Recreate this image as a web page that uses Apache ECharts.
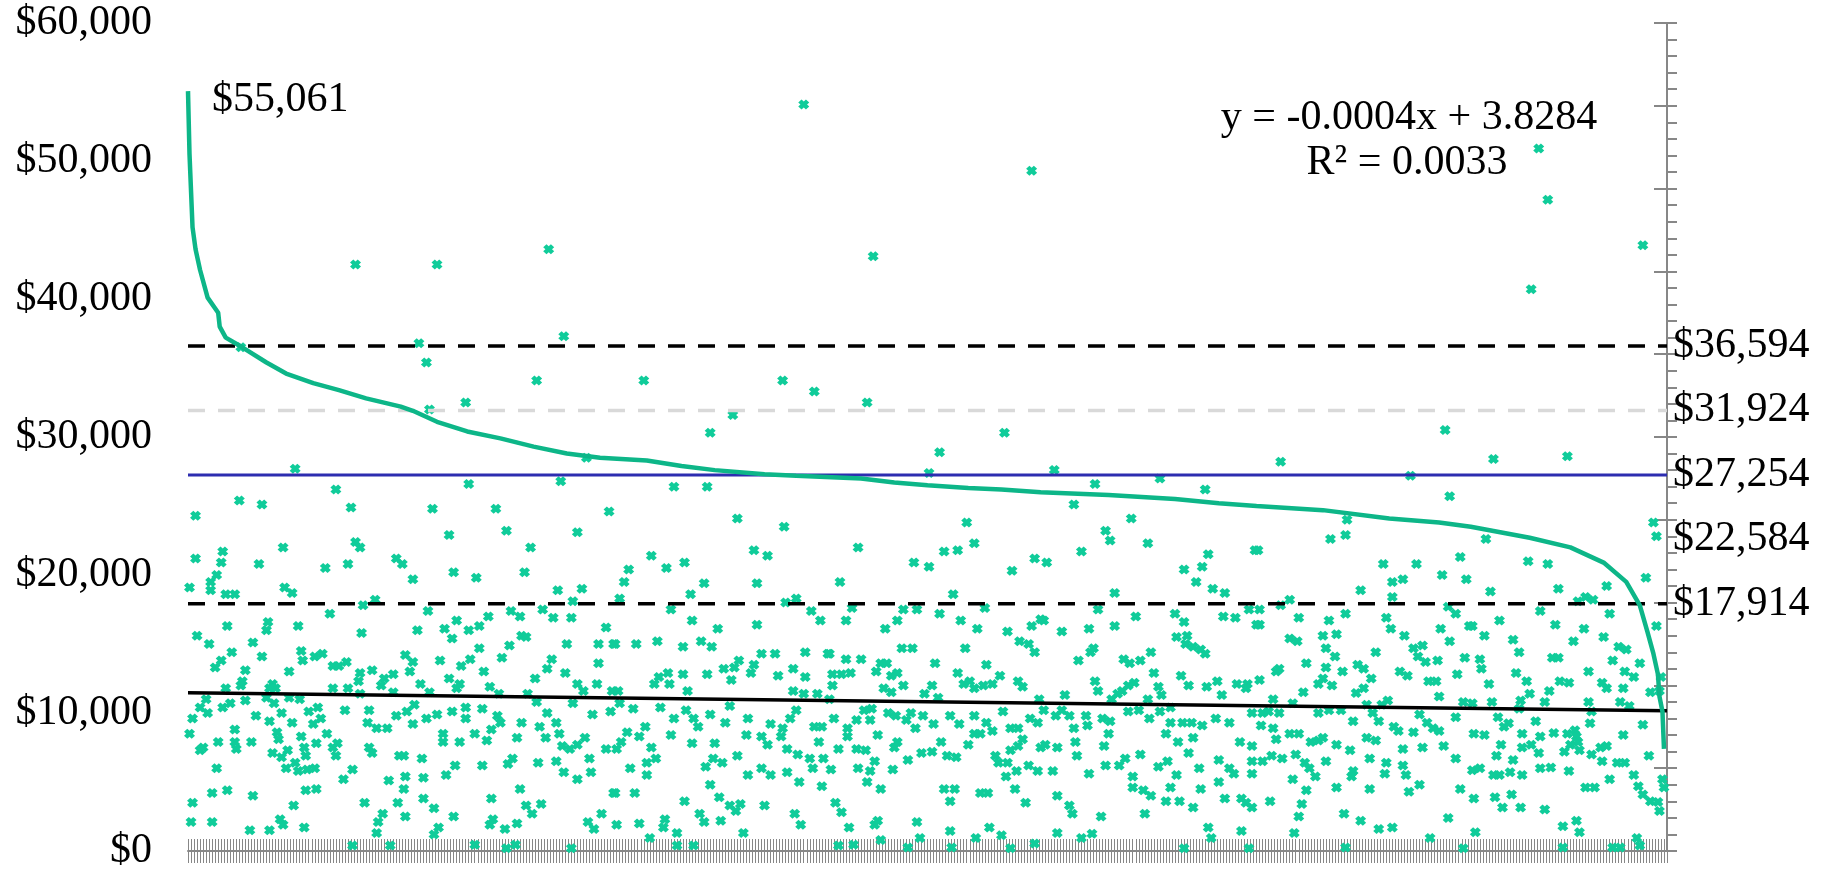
<!DOCTYPE html>
<html>
<head>
<meta charset="utf-8">
<script src="https://cdn.jsdelivr.net/npm/echarts@6/dist/echarts.min.js"></script>
<style>
  html, body { margin: 0; padding: 0; background: #fff; }
  #chart { width: 1835px; height: 871px; }
</style>
</head>
<body>
<div id="chart"></div>
<script>
// rank (0..980) and salary values
const curveRank = [0,1,3,5,8,13,20,21,25,36,52,65,83,100,118,141,149,165,185,207,229,251,273,304,327,349,382,403,446,468,490,517,539,565,610,654,683,708,752,796,829,850,889,916,938,953,962,967,971,974,975,977,978];
const curveValue = [55061,50500,45200,43600,42100,40100,39000,38000,37200,36500,35400,34600,33900,33400,32800,32200,31900,31100,30400,29900,29300,28800,28500,28300,27900,27600,27300,27200,27000,26700,26500,26300,26200,26000,25800,25500,25200,25000,24700,24100,23800,23500,22700,22000,20900,19500,17800,15900,14300,12800,11200,10100,7400];

const trendRank = [0, 980];
const trendValue = [11470, 10160];

const refValues = [36594, 31924, 27254, 22584, 17914];
const refLabels = ['$36,594', '$31,924', '$27,254', '$22,584', '$17,914'];

const peakLabel = '$55,061';
const equationLines = ['y = -0.0004x + 3.8284', 'R\u00b2 = 0.0033'];

// scatter points, strip by strip from left to right: [rank, value]
const stripA = [[111,42500],[35,36500],[71,27700],[5,24300],[34,25400],[49,25100],[98,26200],[108,24900],
[5,21200],[23,21700],[22,20900],[19,20000],[15,19500],[15,18900],[1,19100],[25,18600],[31,18600],[47,20800],[63,22000],[64,19100],[69,18700],[91,20500],[106,20800],[111,22400],[114,22000],[94,17200],[124,18200],[116,17800],[138,21200],
[6,15600],[14,15000],[26,16300],[53,16600],[52,16000],[73,16300],[43,15100],[115,15800],[29,14400],[22,13800],[18,13300],[38,13100],[49,14100],[75,14500],[76,13800],[84,14100],[89,14300],[96,13400],[100,13400],[105,13700],[67,13000],[114,12900],[122,13100],[130,12500],[136,12800],[36,12300],[35,12000],[25,11800],[56,12100],[54,11800],[58,11800],[96,11800],[106,11800],[113,12300],[114,11400],[128,12000],[136,11500],
[12,11000],[8,10400],[3,9600],[13,10000],[23,10400],[28,10700],[38,10900],[45,9800],[52,11100],[57,10700],[62,10000],[67,11100],[74,11000],[54,9400],[69,9300],[80,10100],[86,10400],[88,9600],[83,9200],[104,10200],[120,10200],[119,9300],[125,8900],[132,8900],[138,9800],
[1,8500],[10,7500],[8,7300],[20,7900],[31,8800],[31,7900],[32,7400],[42,7900],[59,8600],[60,8100],[66,7300],[56,7100],[62,6800],[65,6000],[71,6400],[75,8300],[77,7500],[78,6900],[73,5800],[79,5900],[84,6000],[85,7800],[92,8500],[96,7500],[98,6900],[99,7800],[120,7500],[122,7100],[103,5200],[109,5900],[133,5100],[140,6900],[19,6000],
[16,4200],[26,4400],[43,4000],[78,4400],[85,4500],[3,3500],[70,3300],[117,3500],[139,3500],[2,2100],[16,2100],[41,1500],[54,1500],[61,2300],[63,1900],[77,1700],[129,2700],[126,2100],[125,1300],[109,400],[134,400]];

const stripB = [[165,42500],[239,43600],[153,36800],[158,35400],[249,37300],[231,34100],[160,32000],[184,32500],[264,28500],[186,26600],[247,26800],[162,24800],[204,24800],[279,24600],[173,22900],[211,23200],[258,23100],[227,22000],[142,20800],[149,19700],[176,20200],[191,19800],[223,20200],[245,18900],[261,19000],[255,18100],[159,17400],[152,16000],[170,16100],[178,16700],[175,15400],[186,16000],[193,16300],[199,17000],[214,17400],[220,17000],[235,17500],[242,16900],[254,16900],[221,15600],[224,15500],[251,15000],[277,16200],[272,15000],[282,15000],
[144,14200],[149,13700],[147,13000],[167,13800],[187,13900],[193,14700],[208,14000],[213,14900],[181,13400],[196,13000],[173,12500],[180,12100],[178,11800],[200,11900],[206,11400],[230,12500],[238,13200],[241,13900],[250,12900],[258,12100],[262,11600],[271,12100],[272,13600],[281,11600],[154,12100],[160,11500],
[150,10600],[145,10100],[149,9200],[158,9600],[165,9900],[175,10100],[184,10400],[184,9600],[195,10300],[205,9800],[207,9300],[221,9300],[225,11400],[231,10800],[238,10000],[244,9300],[255,10700],[268,9900],[280,10100],
[169,8500],[169,7900],[180,7900],[190,8500],[198,8000],[201,8800],[218,8200],[233,9000],[237,8200],[246,8500],[248,7600],[253,7400],[258,7700],[263,8200],[277,7400],[284,7400],
[143,6900],[155,6700],[171,5500],[177,6200],[195,6200],[212,6300],[215,6700],[232,6400],[244,6500],[249,5700],[258,5200],[266,6700],[267,5700],[144,5400],[156,5300],[143,4500],[220,4500],[156,3800],[201,3800],[224,3300],[228,2700],[234,3400],[163,3100],[144,2500],[176,2500],[202,2300],[200,1900],[218,2000],[166,1700],[163,1200],[210,1600],[274,2700],[265,2100],[269,1600],[190,450],[211,200],[217,450],[254,200],[282,4200]];

const stripC = [[408,54100],[302,34100],[394,34100],[415,33300],[361,31600],[346,30300],[322,26400],[344,26400],[364,24100],[395,23500],[375,21800],[384,21400],[307,21400],[292,20400],[317,20500],[329,20900],[289,19500],[342,19400],[377,19400],[286,18300],[333,18600],[403,18300],[396,18000],[320,17500],[413,17400],[419,16700],[334,16700],[351,16100],[377,16400],
[283,15000],[297,15000],[311,15200],[328,14800],[340,15200],[347,14800],[380,14300],[389,14300],[409,14400],[424,14300],[365,13800],[362,13300],[375,13500],[373,12900],[355,13200],[344,12800],[328,12800],[312,12600],[318,12900],[319,12100],[309,12100],[331,11600],[360,12400],[391,12700],[401,13200],[409,12600],[401,11600],[417,11400],[408,11400],[285,11600],
[286,10700],[295,10300],[313,10400],[322,9600],[330,10200],[335,9600],[338,9000],[346,9900],[356,9300],[359,10500],[371,9600],[386,9200],[394,8900],[399,9600],[403,10200],[415,9000],[420,9000],[303,9000],[291,8600],[287,7900],[299,8300],[307,7500],[310,6700],[304,6400],[320,8400],[334,7800],[349,7800],[354,6400],[348,6700],[364,6900],[370,8400],[380,8300],[384,7700],[393,8300],[397,7400],[404,7000],[412,6700],[418,7900],[421,6700],
[293,6000],[304,5500],[343,6100],[371,5500],[380,6000],[386,5500],[397,5700],[405,5000],[414,6000],[420,4700],[283,4200],[296,4200],[346,4800],[329,3600],[352,3900],[359,3300],[366,3400],[382,3300],[339,2700],[342,2100],[353,2200],[363,2900],[402,2700],[406,1900],[284,1900],[299,2000],[316,2300],[315,1700],[324,1300],[306,950],[324,400],[335,400],[368,1300]];

const stripD = [[559,49300],[454,43100],[450,32500],[541,30300],[498,28900],[491,27400],[516,23800],[521,22300],[444,22000],[481,20900],[491,20600],[501,21700],[510,21800],[546,20300],[561,21200],[432,19500],[507,18600],[440,17600],[474,17500],[483,17500],[498,17200],[528,17600],[436,16700],[462,16100],[470,16700],[512,16700],[523,16100],[543,15900],[559,16300],[565,16800],[551,15200],[557,15000],[561,14400],[473,14700],[480,14700],[515,14700],[425,14300],[436,13900],[446,13900],
[427,12800],[433,12800],[439,12900],[456,13000],[459,13600],[463,13600],[466,12700],[470,12900],[474,12000],[461,11800],[466,11500],[495,13600],[493,12000],[488,11400],[497,11100],[510,12900],[514,12100],[518,12300],[521,11800],[529,13500],[527,12000],[533,12100],[538,12700],[550,12300],[553,11900],[564,11000],[427,12000],[425,11000],
[428,9600],[437,8900],[437,8300],[443,9500],[448,10200],[453,10300],[452,9500],[457,8400],[464,10000],[469,9800],[476,9500],[479,10000],[482,8900],[487,9800],[494,9200],[505,9800],[511,9200],[521,9800],[529,9300],[533,8700],[540,10100],[545,8900],[550,8900],[558,9600],[563,9300],[521,8500],
[431,7400],[443,7400],[449,7300],[470,7900],[468,7500],[486,7100],[493,7200],[499,7900],[503,6900],[509,6800],[517,7700],[525,8500],[535,6900],[537,6400],[543,6400],[545,7300],[550,7600],[553,8100],[557,6200],[563,5800],[565,7500],[426,5900],[444,6000],[455,6500],[452,5800],[450,5000],[467,5900],[477,6600],
[459,4500],[501,4500],[508,4500],[505,3600],[525,4200],[530,4200],[542,5400],[549,5800],[548,4500],[555,3500],[429,3500],[433,2800],[438,1700],[457,2200],[455,1900],[483,2100],[485,950],[505,1450],[531,1700],[539,1150],[522,950],[431,400],[441,450],[459,800],[477,250],[506,250],[545,200],[561,550]];

const stripE = [[574,27600],[601,26600],[644,27000],[674,26200],[587,25100],[625,24100],[608,23200],[611,22500],[636,22300],[592,21700],[707,21800],[569,20900],[660,20400],[672,20600],[676,21500],[668,19500],[679,19000],[687,18700],[614,18700],[567,16700],[603,17500],[628,17000],[614,16300],[597,16100],[579,15900],[600,14700],[598,14400],[590,13800],[654,17200],[660,16600],[655,15500],[662,15600],[661,15000],[666,14800],[671,14600],[674,14300],[686,17000],[694,16900],[703,17500],[708,16400],[638,14400],[620,13900],[624,13600],[631,13800],
[640,12900],[601,12300],[603,11600],[612,11000],[616,11400],[619,11600],[623,12000],[627,12200],[643,11900],[645,11300],[636,11000],[658,12700],[663,12000],[675,11900],[682,12300],[685,11300],[695,12100],[702,12100],[701,11800],[581,11300],
[567,10200],[575,9800],[579,10200],[584,9800],[587,8900],[595,9800],[596,9100],[606,9600],[611,9400],[610,8500],[623,10100],[630,10200],[637,9600],[644,10100],[651,10400],[651,9300],[648,8500],[659,9300],[665,9300],[666,8200],[672,9100],[681,9600],[690,9300],[705,10000],
[568,7700],[576,7500],[588,7900],[589,6900],[607,7600],[608,6200],[617,6200],[621,6700],[631,7000],[643,6100],[649,6500],[656,7900],[663,7100],[670,6000],[683,6600],[690,6000],[693,5600],[697,7900],[705,7600],[705,6500],[573,5800],[597,5600],[626,5400],[655,5500],[683,5000],[705,5600],
[576,4000],[626,4600],[633,4400],[638,4000],[651,4600],[671,4500],[687,3800],[698,3800],[701,3500],[705,3150],[584,3300],[586,2700],[648,3600],[657,3600],[666,3150],[605,2500],[634,2700],[576,1300],[592,950],[599,1250],[676,1700],[678,950],[698,1450],[660,200],[703,200]];

const stripF = [[833,30500],[724,28200],[810,27200],[836,25700],[768,24000],[767,22900],[757,22600],[709,21800],[792,20800],[814,20800],[843,21300],[831,20000],[805,19700],[798,19500],[847,19700],[777,18900],[798,18400],[730,18200],[724,17800],[710,17500],[835,17700],[840,17200],[767,17200],[736,16900],[756,16700],[710,16400],[794,16900],[797,16100],[830,16100],[849,16300],[761,15700],[752,15600],[730,15400],[735,15200],[806,15600],[836,15200],
[754,14700],[760,14100],[787,14400],[812,14700],[818,14900],[815,14100],[820,13700],[828,13800],[846,14000],[741,13600],[754,13300],[775,13500],[765,13000],[779,13200],[803,13000],[808,12700],[822,12300],[827,12300],[841,12800],[721,13000],[723,13200],[710,12400],[752,12500],[749,12100],[758,12000],[784,12500],[739,11500],[774,11450],[779,11800],[829,11200],[719,11000],[732,10700],
[712,10000],[716,10100],[723,10000],[749,10000],[756,10200],[764,10200],[781,10600],[785,10000],[791,10600],[795,10900],[816,9900],[821,9300],[825,8900],[840,9700],[845,10800],[711,9100],[719,8900],[721,8100],[730,8500],[736,8500],[744,7900],[749,8000],[752,8200],[761,7700],[772,9400],[770,7300],[781,8200],[787,8000],[789,9400],[799,9000],[802,8700],[805,7400],[812,8600],[818,7500],[829,8700],[832,7600],
[712,6500],[718,6900],[725,6700],[734,7000],[740,6400],[743,6000],[747,5400],[754,6500],[772,5800],[771,5400],[783,6700],[794,6400],[793,5600],[805,6200],[807,5500],[840,6700],[741,4400],[732,5200],[761,4600],[783,4500],[809,4300],[816,4800],[843,4500],[717,3600],[738,3400],[736,2500],[766,2700],[777,2200],[789,1600],[798,1700],[835,2400],[733,1300],[823,950],[767,250],[845,200]];

const stripG = [[895,50900],[901,47200],[964,43900],[890,40700],[865,28400],[914,28600],[971,23800],[973,22800],[860,22600],[888,21000],[901,20800],[966,19800],[908,19000],[863,18800],[940,19200],[921,18100],[926,18400],[931,18200],[896,17400],[942,17200],[869,16700],[851,16300],[906,16400],[925,16100],[973,16300],[859,15600],[878,15300],[918,15200],[938,15500],[882,14400],[948,14800],[953,14600],[944,13800],[962,13600],[904,14000],[908,14000],[856,13900],
[857,13200],[880,12900],[928,13000],[952,13000],[958,12600],[862,12100],[887,12300],[909,12300],[915,12200],[937,12200],[940,11800],[951,11800],[969,11500],[976,12600],[975,11600],[889,11400],[902,11600],[899,10800],[883,10900],[864,10800],[928,10800],[949,10800],[955,10500],[851,10700],[882,10300],
[868,9700],[875,9250],[893,9400],[852,8500],[859,8400],[872,9000],[884,8500],[896,8300],[905,8550],[914,8500],[919,8750],[920,8300],[929,9250],[930,10100],[951,8400],[964,9150],
[867,6900],[870,7700],[878,6600],[884,7500],[890,7700],[895,7100],[896,6000],[912,7200],[916,7700],[921,7900],[922,7300],[930,7000],[936,7500],[940,7600],[937,6500],[947,6400],[952,6400],[968,6900],[851,5850],[856,6000],[865,5500],[869,5500],[876,5700],[884,5500],[903,6050],[915,5800],[926,4600],[932,4600],[942,5200],[958,5500],[961,4700],[964,4100],[977,5200],[978,4600],[969,3600],[974,3550],[975,2900],
[852,3800],[866,3900],[877,4100],[871,3150],[883,3150],[899,3000],[911,1800],[920,2200],[922,1350],[853,1350],[960,950],[911,250],[944,250],[949,250],[962,400]];

const scatterPoints = [].concat(stripA, stripB, stripC, stripD, stripE, stripF, stripG);

const SERIF = "'Liberation Serif', 'Times New Roman', serif";
const AXIS_GREY = '#878787';
const GREEN_DOT = '#10cc9a';
const GREEN_LINE = '#0db688';
const RANK_MAX = 980;

// style of each reference line (same order as refValues)
const refStyles = [
  { color: '#000', width: 3.5, type: [17, 13], opacity: 1 },
  { color: '#d9d9d9', width: 3.5, type: [17, 13], opacity: 1 },
  { color: '#2d2db0', width: 3, type: 'solid', opacity: 1 },
  { color: '#000', width: 0, type: 'solid', opacity: 0 },
  { color: '#000', width: 3.5, type: [17, 13], opacity: 1 }
];

// bold "x" marker
const xSymbol = 'path://M0,3L3,0L5,2L7,0L10,3L8,5L10,7L7,10L5,8L3,10L0,7L2,5Z';

const chart = echarts.init(document.getElementById('chart'));

const money = v => '$' + v.toLocaleString('en-US');

const refSeries = refValues.map((v, i) => ({
  type: 'line',
  silent: true,
  symbol: 'none',
  z: 3,
  data: [[0, v], [RANK_MAX, v]],
  lineStyle: refStyles[i]
}));

const textStyle = (txt) => ({
  text: txt, font: '42px ' + SERIF, fill: '#000',
  align: 'center', textAlign: 'center',
  verticalAlign: 'middle', textVerticalAlign: 'middle'
});

const option = {
  animation: false,
  backgroundColor: '#fff',
  grid: { left: 188, right: 168, top: 23, bottom: 20, outerBoundsMode: 'none' },
  xAxis: [
    {
      type: 'value', position: 'bottom', min: 0, max: RANK_MAX, interval: 2,
      axisLine: { show: true, onZero: false, lineStyle: { color: AXIS_GREY, width: 2 } },
      axisTick: { show: true, inside: false, length: 12, lineStyle: { color: AXIS_GREY, width: 1 } },
      axisLabel: { show: false },
      splitLine: { show: false }
    },
    {
      type: 'value', position: 'bottom', min: 0, max: RANK_MAX, interval: 2,
      axisLine: { show: false, onZero: false },
      axisTick: { show: true, inside: true, length: 12, lineStyle: { color: AXIS_GREY, width: 1 } },
      axisLabel: { show: false },
      splitLine: { show: false }
    }
  ],
  yAxis: [
    {
      type: 'value', position: 'left', min: 0, max: 60000, interval: 10000,
      axisLine: { show: false, onZero: false },
      axisTick: { show: false },
      splitLine: { show: false },
      axisLabel: {
        margin: 36, color: '#000', fontFamily: SERIF, fontSize: 42,
        formatter: v => money(v)
      }
    },
    {
      type: 'value', position: 'right', min: 0, max: 60000, interval: 6000,
      axisLine: { show: true, onZero: false, lineStyle: { color: AXIS_GREY, width: 2 } },
      axisTick: { show: true, inside: false, length: 10, lineStyle: { color: AXIS_GREY, width: 2 } },
      minorTick: { show: true, splitNumber: 5, length: 10, lineStyle: { color: AXIS_GREY, width: 2 } },
      axisLabel: { show: false },
      splitLine: { show: false }
    },
    {
      type: 'value', position: 'right', min: 0, max: 60000, interval: 6000,
      axisLine: { show: false, onZero: false },
      axisTick: { show: true, inside: true, length: 13, lineStyle: { color: AXIS_GREY, width: 2 } },
      axisLabel: { show: false },
      splitLine: { show: false }
    }
  ],
  series: [
    {
      type: 'scatter',
      name: 'salaries',
      symbol: xSymbol,
      symbolSize: [11, 10],
      itemStyle: { color: GREEN_DOT, opacity: 1 },
      z: 2,
      data: scatterPoints
    },
    ...refSeries,
    {
      type: 'line',
      name: 'trend',
      symbol: 'none',
      z: 4,
      lineStyle: { color: '#000', width: 3.5 },
      data: trendRank.map((r, i) => [r, trendValue[i]])
    },
    {
      type: 'line',
      name: 'sorted',
      symbol: 'none',
      z: 5,
      lineStyle: { color: GREEN_LINE, width: 4.5 },
      data: curveRank.map((r, i) => [r, curveValue[i]])
    },
    {
      type: 'scatter',
      name: 'peak label',
      symbolSize: 0,
      silent: true,
      z: 6,
      itemStyle: { opacity: 1 },
      data: [[curveRank[0], curveValue[0]]],
      label: {
        show: true, position: 'right', distance: 24, offset: [0, 9],
        formatter: peakLabel, color: '#000', fontFamily: SERIF, fontSize: 42
      }
    },
    {
      type: 'scatter',
      name: 'ref labels',
      symbolSize: 0,
      silent: true,
      z: 6,
      itemStyle: { opacity: 1 },
      data: refValues.map(v => [RANK_MAX, v]),
      label: {
        show: true, position: 'right', distance: 6,
        formatter: p => refLabels[p.dataIndex], color: '#000', fontFamily: SERIF, fontSize: 42
      }
    }
  ],
  graphic: [
    { type: 'text', x: 1409, y: 118, style: textStyle(equationLines[0]) },
    { type: 'text', x: 1407, y: 163, style: textStyle(equationLines[1]) }
  ]
};

chart.setOption(option);
</script>
</body>
</html>
